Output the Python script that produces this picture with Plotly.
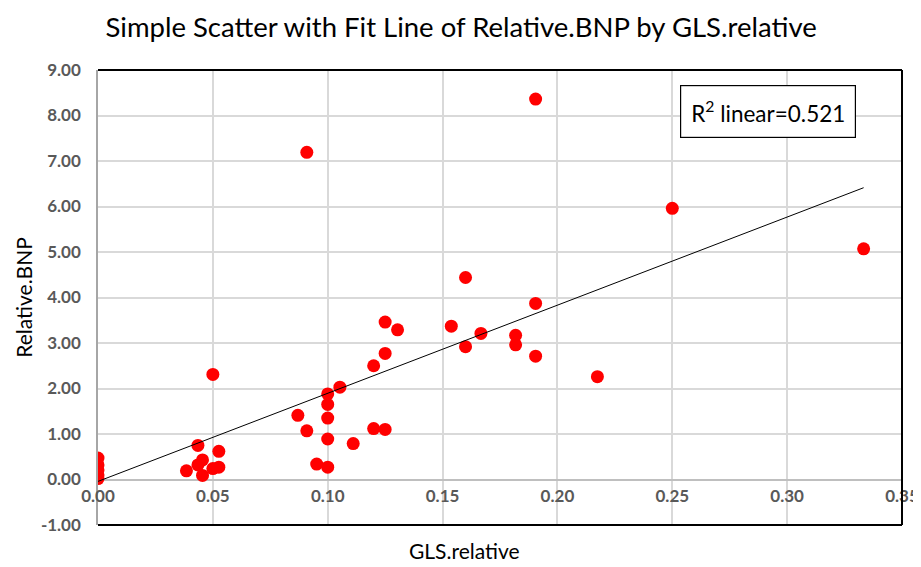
import numpy as np
import plotly.graph_objects as go

title_text = "Simple Scatter with Fit Line of Relative.BNP by GLS.relative"
x_label = "GLS.relative"
y_label = "Relative.BNP"
r2_label = "R<sup>2</sup> linear=0.521"

gls_relative = [0, 0, 0, 0, 0,
                0.0385, 0.0435, 0.0435, 0.0455, 0.0455, 0.05, 0.0526, 0.0526, 0.05,
                0.087, 0.0909, 0.0909, 0.0952, 0.1, 0.1, 0.1, 0.1, 0.1, 0.1053, 0.1111,
                0.12, 0.125, 0.12, 0.125, 0.125, 0.1304,
                0.1538, 0.16, 0.16, 0.1667, 0.1818, 0.1818, 0.1905, 0.1905, 0.1905,
                0.2174, 0.25, 0.3333]
relative_bnp = [0.47, 0.32, 0.21, 0.10, 0.02,
                0.19, 0.75, 0.32, 0.43, 0.09, 0.24, 0.27, 0.62, 2.31,
                1.41, 1.07, 7.19, 0.34, 0.27, 0.89, 1.35, 1.65, 1.88, 2.03, 0.79,
                1.12, 1.10, 2.50, 2.77, 3.46, 3.29,
                3.37, 4.44, 2.92, 3.21, 3.17, 2.96, 3.87, 2.71, 8.36,
                2.26, 5.96, 5.07]

x_ticks = [0, 0.05, 0.10, 0.15, 0.20, 0.25, 0.30, 0.35]
y_ticks = [-1, 0, 1, 2, 3, 4, 5, 6, 7, 8, 9]

slope, intercept = np.polyfit(gls_relative, relative_bnp, 1)
fit_x = [min(gls_relative), max(gls_relative)]
fit_y = [intercept + slope * v for v in fit_x]

font_family = "Lato, 'Open Sans', sans-serif"
tick_font = dict(family=font_family, size=17, color="#595959", weight="bold")

fig = go.Figure()
fig.add_trace(go.Scatter(x=gls_relative, y=relative_bnp, mode="markers",
                         marker=dict(color="#ff0000", size=13, line=dict(width=0)),
                         showlegend=False, hoverinfo="x+y"))
fig.add_trace(go.Scatter(x=fit_x, y=fit_y, mode="lines",
                         line=dict(color="black", width=1), showlegend=False))

fig.update_layout(
    width=921, height=567,
    margin=dict(l=90, r=27, t=62, b=50, autoexpand=False),
    paper_bgcolor="white", plot_bgcolor="white",
    title=dict(text=title_text, x=0.492, xanchor="center", y=0.966, yanchor="middle",
               automargin=False,
               font=dict(family=font_family, size=27.5, color="black")),
    font=dict(family=font_family),
    xaxis=dict(range=[0, 0.35], tickvals=x_ticks, ticktext=[f"{v:.2f}" for v in x_ticks],
               showgrid=True, gridcolor="#d9d9d9", gridwidth=1.5,
               zeroline=False, showline=False, anchor="free", position=0.1,
               automargin=False,
               tickfont=tick_font, ticks="", ticklabelstandoff=4),
    yaxis=dict(range=[-1, 9], tickvals=y_ticks, ticktext=[f"{v:.2f}" for v in y_ticks],
               showgrid=True, gridcolor="#d9d9d9", gridwidth=1.5,
               zeroline=True, zerolinecolor="#bfbfbf", zerolinewidth=1.5,
               showline=True, linecolor="#a6a6a6", linewidth=1.5,
               automargin=False,
               tickfont=tick_font, ticks="", ticklabelstandoff=12),
    annotations=[
        dict(text=x_label, xref="paper", yref="paper", x=0.456, y=-0.055,
             xanchor="center", yanchor="middle", showarrow=False,
             font=dict(family=font_family, size=21, color="black")),
        dict(text=y_label, xref="paper", yref="paper", x=-0.093, y=0.5,
             xanchor="center", yanchor="middle", showarrow=False, textangle=-90,
             font=dict(family=font_family, size=21, color="black")),
        dict(text=r2_label, xref="paper", yref="paper", x=0.724, y=0.908,
             xanchor="left", yanchor="middle", showarrow=False,
             bordercolor="black", borderwidth=1.2, borderpad=10, bgcolor="white",
             font=dict(family=font_family, size=22.5, color="black")),
    ],
    shapes=[
        dict(type="line", xref="paper", yref="paper", x0=0, x1=1, y0=1, y1=1,
             line=dict(color="black", width=2)),
        dict(type="line", xref="paper", yref="paper", x0=1, x1=1, y0=0, y1=1,
             line=dict(color="black", width=2)),
        dict(type="line", xref="paper", yref="paper", x0=0, x1=1, y0=0, y1=0,
             line=dict(color="black", width=2)),
    ],
)

fig.write_html("out.html")
